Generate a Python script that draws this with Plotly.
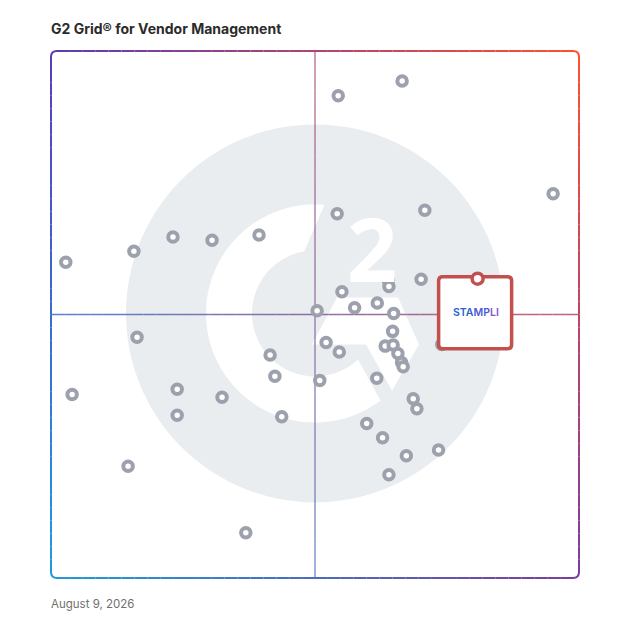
import numpy as np
import plotly.graph_objects as go

TITLE = "G2 Grid® for Vendor Management"
DATE_LABEL = "August 9, 2026"

# satisfaction (x) and market presence (y) on a 0-100 grid
vendor_satisfaction = [66.5, 54.4, 95.1, 54.2, 70.8, 39.4, 23.1, 30.5, 15.7, 2.8,
                       63.9, 70.1, 64.0, 55.1, 61.8, 57.5, 64.9, 50.4, 64.7, 16.3,
                       52.1, 54.6, 63.3, 64.8, 65.7, 66.4, 66.7, 41.5, 42.4, 50.9,
                       61.7, 23.9, 4.0, 32.4, 68.6, 69.3, 23.9, 43.7, 59.8, 62.8,
                       73.4, 67.3, 14.6, 64.0, 36.9, 74.0]
vendor_presence = [94.3, 91.5, 72.9, 69.1, 69.8, 65.1, 64.7, 64.1, 62.0, 59.9,
                   56.4, 56.7, 55.3, 54.3, 52.2, 51.3, 50.2, 50.7, 46.8, 45.7,
                   44.7, 42.9, 44.0, 44.2, 42.6, 40.9, 40.1, 42.3, 38.3, 37.5,
                   37.9, 35.8, 34.8, 34.3, 34.0, 32.1, 30.9, 30.6, 29.3, 26.6,
                   24.3, 23.2, 21.2, 19.6, 8.6, 44.3]

stampli_name = "STAMPLI"
stampli_satisfaction = [80.8]
stampli_presence = [56.8]

# px per data unit (plot area is 528 x 527 px)
SX, SY = 5.28, 5.27

# corner colours of the gradient frame
TL = np.array([90, 60, 180])
TR = np.array([255, 80, 45])
BL = np.array([30, 155, 220])
BR = np.array([122, 60, 160])


def grad(u, v):
    """bilinear colour, u = 0..1 left->right, v = 0..1 bottom->top"""
    c = (1 - u) * (1 - v) * BL + u * (1 - v) * BR + (1 - u) * v * TL + u * v * TR
    return "rgb(%d,%d,%d)" % tuple(int(round(x)) for x in c)


shapes = []

# ---- G2 watermark -----------------------------------------------------------
cx, cy = 50.0, 50.2
R = 189
shapes.append(dict(type="circle", xref="x", yref="y", layer="below",
                   x0=cx - R / SX, x1=cx + R / SX, y0=cy - R / SY, y1=cy + R / SY,
                   fillcolor="#eaedf0", line=dict(width=0)))


def pt(dx, dy):
    # pixel offset from the logo centre (dy down) -> data coords
    return cx + dx / SX, cy - dy / SY


outer = np.radians(np.linspace(85, 307, 90))
inner = np.radians(np.linspace(313, 100, 90))
pts = [(cx + 109 * np.cos(a) / SX, cy + 109 * np.sin(a) / SY) for a in outer]
pts += [(cx + 63 * np.cos(a) / SX, cy + 63 * np.sin(a) / SY) for a in inner]
path = "M " + " L ".join("%.3f,%.3f" % p for p in pts) + " Z"
shapes.append(dict(type="path", xref="x", yref="y", layer="below", path=path,
                   fillcolor="white", line=dict(width=0)))

chev = [pt(22, -16), pt(83, -16), pt(104, 31), pt(77, 77), pt(51, 31), pt(-3, 31)]
path = "M " + " L ".join("%.3f,%.3f" % p for p in chev) + " Z"
shapes.append(dict(type="path", xref="x", yref="y", layer="below", path=path,
                   fillcolor="white", line=dict(width=0)))

# ---- crosshair --------------------------------------------------------------
N = 40
for i in range(N):
    a, b = i / N, (i + 1) / N
    shapes.append(dict(type="line", xref="x", yref="y", layer="below",
                       x0=a * 100, x1=b * 100, y0=50, y1=50, opacity=0.85,
                       line=dict(color=grad((a + b) / 2, 0.5), width=1.5)))
    shapes.append(dict(type="line", xref="x", yref="y", layer="below",
                       x0=50, x1=50, y0=a * 100, y1=b * 100, opacity=0.7,
                       line=dict(color=grad(0.5, (a + b) / 2), width=1.5)))

# ---- rounded gradient frame (paper coords) ----------------------------------
rx, ry = 6 / 528, 6 / 527
for i in range(N):
    a = rx + (1 - 2 * rx) * i / N
    b = rx + (1 - 2 * rx) * (i + 1) / N
    m = (a + b) / 2
    a2 = ry + (1 - 2 * ry) * i / N
    b2 = ry + (1 - 2 * ry) * (i + 1) / N
    m2 = (a2 + b2) / 2
    for x0, x1, y0, y1, col in [(a, b, 1, 1, grad(m, 1)), (a, b, 0, 0, grad(m, 0)),
                                (0, 0, a2, b2, grad(0, m2)), (1, 1, a2, b2, grad(1, m2))]:
        shapes.append(dict(type="line", xref="paper", yref="paper", layer="below",
                           x0=x0, x1=x1, y0=y0, y1=y1,
                           line=dict(color=col, width=2)))
corners = [
    ("M 0,%f Q 0,1 %f,1" % (1 - ry, rx), grad(0, 1)),
    ("M %f,1 Q 1,1 1,%f" % (1 - rx, 1 - ry), grad(1, 1)),
    ("M 0,%f Q 0,0 %f,0" % (ry, rx), grad(0, 0)),
    ("M %f,0 Q 1,0 1,%f" % (1 - rx, ry), grad(1, 0)),
]
for p, col in corners:
    shapes.append(dict(type="path", xref="paper", yref="paper", layer="below",
                       path=p, line=dict(color=col, width=2)))

# ---- Stampli callout box, anchored on its point ----------------------------
RED = "#c2504f"
box = ("M -35,2 L 30,2 Q 34,2 34,-2 L 34,-66 Q 34,-70 30,-70 L -35,-70 "
       "Q -39,-70 -39,-66 L -39,-2 Q -39,2 -35,2 Z")
shapes.append(dict(type="path", xref="x", yref="y", layer="above",
                   xsizemode="pixel", ysizemode="pixel",
                   xanchor=stampli_satisfaction[0], yanchor=stampli_presence[0],
                   path=box, fillcolor="white", line=dict(color=RED, width=3.5)))
shapes.append(dict(type="circle", xref="x", yref="y", layer="above",
                   xsizemode="pixel", ysizemode="pixel",
                   xanchor=stampli_satisfaction[0], yanchor=stampli_presence[0],
                   x0=-5.5, x1=5.5, y0=-5.5, y1=5.5,
                   fillcolor="white", line=dict(color=RED, width=3.5)))

fig = go.Figure()
fig.add_trace(go.Scatter(
    x=vendor_satisfaction, y=vendor_presence, mode="markers",
    marker=dict(size=9.5, color="white", line=dict(color="#9da1ad", width=4)),
    hoverinfo="skip",
))
fig.add_trace(go.Scatter(
    x=stampli_satisfaction, y=stampli_presence, mode="markers",
    marker=dict(size=9.5, color="white", line=dict(color=RED, width=3.5)),
    name=stampli_name,
))

annotations = [
    dict(x=60.8, y=62.6, xref="x", yref="y", text="<b>2</b>", showarrow=False,
         font=dict(family="Open Sans", size=88, color="white")),
    dict(x=stampli_satisfaction[0], y=stampli_presence[0], xref="x", yref="y",
         xshift=-2, yshift=-34, showarrow=False,
         text=("<span style='color:#2a5ed8'>STA</span>"
               "<span style='color:#4f58d8'>MP</span>"
               "<span style='color:#8650d0'>LI</span>"),
         font=dict(family="Inter", size=10.5, weight=600)),
    dict(x=0, y=-26 / 527, xref="paper", yref="paper", xanchor="left",
         xshift=-2, yanchor="middle", showarrow=False, text=DATE_LABEL,
         font=dict(family="Inter", size=11.5, color="#707070")),
]

# the page has an 8px body margin, so everything is shifted back by 8px
fig.update_layout(
    width=620, height=620,
    margin=dict(l=43, r=49, t=43, b=50),
    paper_bgcolor="white", plot_bgcolor="white",
    showlegend=False,
    title=dict(text="<b>" + TITLE + "</b>", x=43 / 620, xanchor="left",
               y=1 - 21 / 620, yanchor="middle",
               font=dict(family="Inter", size=14, color="#2b2b2b")),
    xaxis=dict(range=[0, 100], visible=False, fixedrange=True),
    yaxis=dict(range=[0, 100], visible=False, fixedrange=True),
    shapes=shapes,
    annotations=annotations,
)

fig.write_html("out.html")
